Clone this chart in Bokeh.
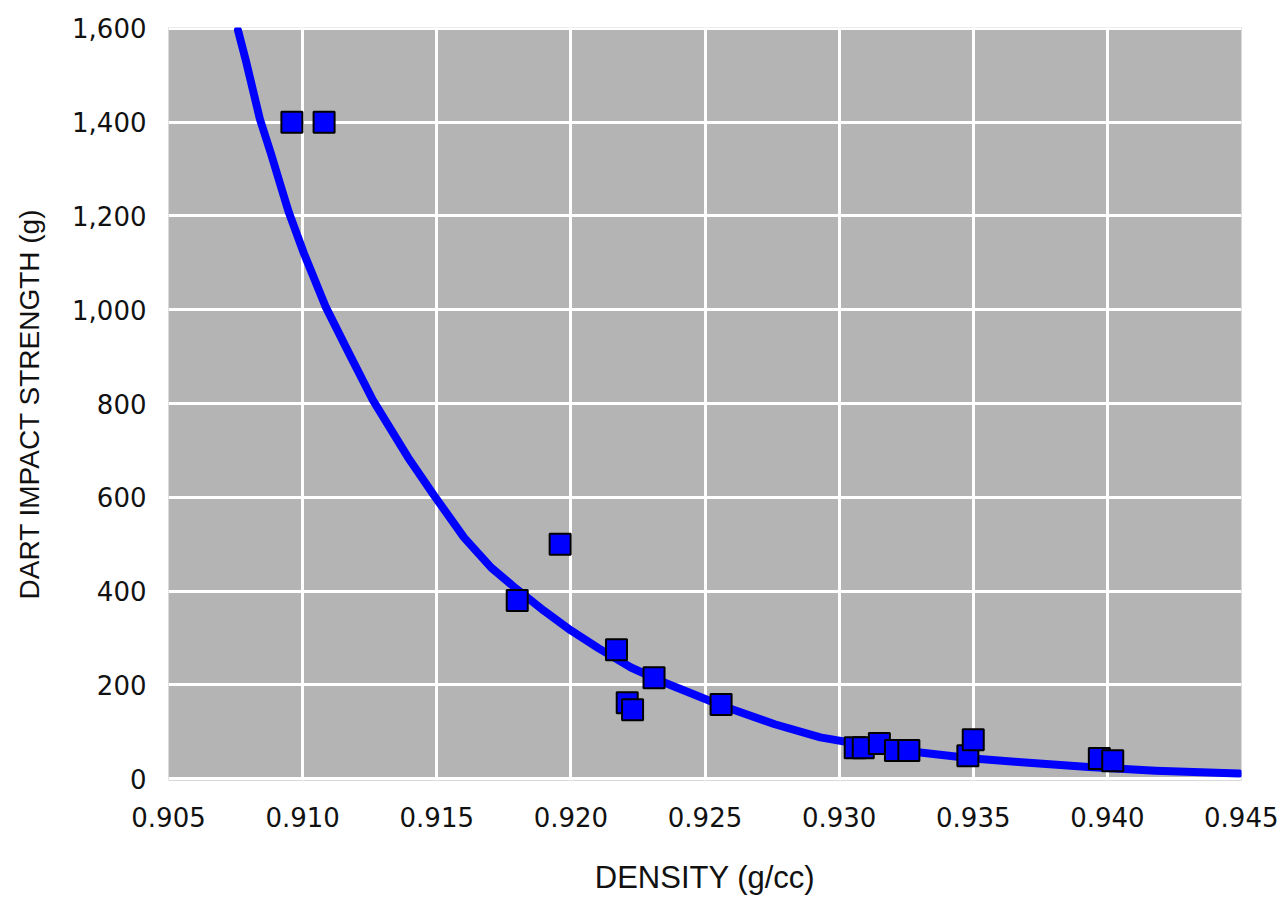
from bokeh.plotting import figure
from bokeh.models import Range1d, FixedTicker, NumeralTickFormatter
from bokeh.embed import file_html
from bokeh.resources import INLINE

# Measured samples: density (g/cc) vs dart impact strength (g)
density = [0.9096, 0.9108, 0.9196, 0.9180, 0.9217, 0.9231, 0.9221, 0.9223,
           0.9256, 0.9306, 0.9309, 0.9315, 0.9321, 0.9326, 0.9348, 0.9350,
           0.9397, 0.9402]
dart = [1400, 1400, 500, 380, 275, 215, 162, 147,
        158, 66, 66, 75, 60, 60, 49, 83,
        43, 38]

# Trend curve through the samples
curve_density = [0.90759, 0.90789, 0.90815, 0.90841, 0.90882, 0.90920, 0.90949,
                 0.91005, 0.91087, 0.91173, 0.91263, 0.91393, 0.91490, 0.91602,
                 0.91703, 0.91796, 0.91900, 0.92000, 0.92101, 0.92224, 0.92348,
                 0.92561, 0.92760, 0.92930, 0.93110, 0.93310, 0.93500, 0.93680,
                 0.93930, 0.94180, 0.94490]
curve_dart = [1596, 1530, 1468, 1406, 1333, 1261, 1207,
              1120, 1005, 907, 806, 685, 604, 514,
              450, 405, 358, 316, 279, 237, 205,
              156, 116, 88, 70, 55, 43, 35,
              25, 17, 11]

x_ticks = [0.905, 0.910, 0.915, 0.920, 0.925, 0.930, 0.935, 0.940, 0.945]
y_ticks = [0, 200, 400, 600, 800, 1000, 1200, 1400, 1600]

p = figure(width=1278, height=904, output_backend="svg", toolbar_location=None,
           x_range=Range1d(0.905, 0.945), y_range=Range1d(-4, 1602),
           min_border_left=168, min_border_right=37,
           min_border_top=27, min_border_bottom=124)

p.background_fill_color = "#b4b4b4"
p.border_fill_color = "white"
p.outline_line_color = None

p.xaxis.ticker = FixedTicker(ticks=x_ticks)
p.yaxis.ticker = FixedTicker(ticks=y_ticks)
p.xaxis.formatter = NumeralTickFormatter(format="0.000")
p.yaxis.formatter = NumeralTickFormatter(format="0,0")

for ax in (p.xaxis, p.yaxis):
    ax.axis_line_color = None
    ax.major_tick_line_color = None
    ax.minor_tick_line_color = None
    ax.major_label_text_font = "DejaVu Sans"
    ax.major_label_text_font_size = "26px"
    ax.major_label_text_color = "#111111"
    ax.axis_label_text_font = "Liberation Sans"
    ax.axis_label_text_font_style = "normal"
    ax.axis_label_text_color = "#111111"

p.xaxis.axis_label = "DENSITY (g/cc)"
p.xaxis.axis_label_text_font_size = "31px"
p.xaxis.major_label_standoff = 20
p.xaxis.axis_label_standoff = 30

p.yaxis.axis_label = "DART IMPACT STRENGTH (g)"
p.yaxis.axis_label_text_font_size = "28px"
p.yaxis.major_label_standoff = 16
p.yaxis.axis_label_standoff = 24

p.grid.grid_line_color = "white"
p.grid.grid_line_width = 3
p.grid.grid_line_alpha = 1.0

p.line(curve_density, curve_dart, line_color="#0000ff", line_width=8,
       line_cap="round", line_join="round")
p.scatter(density, dart, marker="square", size=21, fill_color="#0000ff",
          line_color="black", line_width=2)

open("out.html", "w").write(file_html(p, INLINE))
